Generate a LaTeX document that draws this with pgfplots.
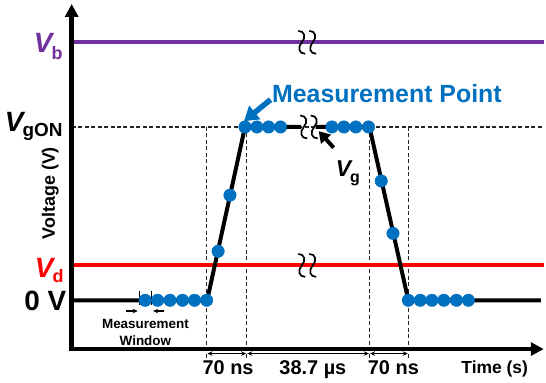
\documentclass[border=0pt]{standalone}
\usepackage{fontspec}
\setmainfont{Liberation Sans}
\usepackage{pgfplots}
\pgfplotsset{compat=1.18}
\usetikzlibrary{arrows.meta}

\definecolor{vpurple}{RGB}{112,48,160}
\definecolor{vred}{RGB}{255,0,0}
\definecolor{vblue}{RGB}{0,112,192}
\newcommand{\fs}[1]{\fontsize{#1bp}{#1bp}\selectfont}

% axis-break symbol: a small vertical wave centred on the given point
\newcommand{\brk}[2]{%
  \draw[black, line width=1.7bp] (axis cs:#1,#2) ++(-3.5bp,11.5bp)
    .. controls +(6.5bp,0bp) and +(4.5bp,5bp) .. ++(3.5bp,-11.5bp)
    .. controls +(-4.5bp,-5bp) and +(-6.5bp,0bp) .. ++(3.5bp,-11.5bp);}

\begin{document}
\begin{tikzpicture}
\begin{axis}[
  x=1bp, y=1bp,
  xmin=0, xmax=474, ymin=0, ymax=346.5,
  axis lines=left,
  axis line style={line width=4.5bp, line cap=rect, -{Triangle[length=13bp,width=13bp]}},
  xtick=\empty, ytick=\empty,
  clip=false, axis on top,
]
% overall extent of the figure
\path (axis cs:-72,-33.5) rectangle (axis cs:474,350.5);

% reference lines
\addplot[black!85, line width=1.3bp, dash pattern=on 4bp off 2.5bp] coordinates {(0,223) (474,223)};
\foreach \xv in {135.7,175.7,299,338}{
  \edef\tmp{\noexpand\draw[black!85, line width=1.3bp, dash pattern=on 4bp off 2.5bp]
    (axis cs:\xv,223) -- (axis cs:\xv,-9);}\tmp
}

% bias levels
\addplot[vpurple, line width=4bp] coordinates {(0,308) (474,308)};
\addplot[vred, line width=4bp] coordinates {(0,84.5) (474,84.5)};

% gate pulse
\addplot[black, line width=4bp, line join=round] coordinates {(0,49) (136,49) (174,223) (230,223)};
\addplot[black, line width=4bp, line join=round] coordinates {(245,223) (299,223) (338,49) (471,49)};

% measurement points
\addplot[only marks, mark=*, mark size=6.3pt, mark options={draw=vblue, fill=vblue}] coordinates {
  (73.7,49) (86.3,49) (98.7,49) (111.3,49) (123.3,49) (135.5,49)
  (147,98.2) (158.9,154.5)
  (174,223) (186,223) (197.7,223) (209.7,223)
  (261.3,223) (273.3,223) (285.3,223) (298,223)
  (310.8,168.8) (322.6,116.2)
  (338,49) (350,49) (361.7,49) (373.7,49) (386.3,49) (398.3,49)
};

% axis breaks
\brk{231}{308}\brk{242}{308}
\brk{231}{84}\brk{242}{84}
\brk{233}{223}\brk{243.5}{223}

% measurement window
\draw[black, line width=1.5bp] (axis cs:68,58.8) -- (axis cs:68,43.8);
\draw[black, line width=1.5bp] (axis cs:80.3,58.8) -- (axis cs:80.3,43.8);
\draw[black, line width=1.2bp, -{Stealth[length=5bp,width=4.5bp]}] (axis cs:54.7,38.2) -- (axis cs:66.3,38.2);
\draw[black, line width=1.2bp, -{Stealth[length=5bp,width=4.5bp]}] (axis cs:93,38.2) -- (axis cs:81.8,38.2);
\node[anchor=base] at (axis cs:74,20.5) {\fs{13.5}\bfseries Measurement};
\node[anchor=base] at (axis cs:74,3.8) {\fs{13.5}\bfseries Window};

% timing intervals
\draw[black, line width=1.1bp, {Stealth[length=5bp,width=4.5bp]}-{Stealth[length=5bp,width=4.5bp]}] (axis cs:136.3,-4.5) -- (axis cs:175.1,-4.5);
\draw[black, line width=1.1bp, {Stealth[length=5bp,width=4.5bp]}-{Stealth[length=5bp,width=4.5bp]}] (axis cs:176.3,-4.5) -- (axis cs:298.4,-4.5);
\draw[black, line width=1.1bp, {Stealth[length=5bp,width=4.5bp]}-{Stealth[length=5bp,width=4.5bp]}] (axis cs:299.6,-4.5) -- (axis cs:337.4,-4.5);
\node[anchor=base] at (axis cs:157,-25.5) {\fs{20}\bfseries 70 ns};
\node[anchor=base] at (axis cs:242.2,-25.5) {\fs{20}\bfseries 38.7 µs};
\node[anchor=base] at (axis cs:323,-25.5) {\fs{20}\bfseries 70 ns};
\node[anchor=base] at (axis cs:424.7,-24.5) {\fs{17.5}\bfseries Time (s)};

% annotations
\draw[vblue, line width=5.5bp, -{Triangle[length=14bp,width=17bp]}] (axis cs:199.7,250.5) -- (axis cs:173,228.8);
\node[anchor=base] at (axis cs:316.5,247.2) {\fs{25}\bfseries\color{vblue}Measurement Point};
\draw[black, line width=4bp, -{Triangle[length=11bp,width=13bp]}] (axis cs:263,202.2) -- (axis cs:248,218.8);
\node[anchor=base west, inner sep=0pt] at (axis cs:265,173.5) {\fs{23}\bfseries\itshape V\kern-1bp\raisebox{-6bp}{\fs{16}\upshape g}};

% level labels
\node[anchor=base east, inner sep=0pt] at (axis cs:-9,297.5) {\fs{28}\bfseries\itshape\color{vpurple}V\kern-1bp\raisebox{-6.5bp}{\fs{18}\upshape b}};
\node[anchor=base east, inner sep=0pt] at (axis cs:-9,218.8) {\fs{28}\bfseries\itshape V\kern-1bp\raisebox{-5bp}{\fs{19}\upshape gON}};
\node[anchor=base east, inner sep=0pt] at (axis cs:-8,72.2) {\fs{28}\bfseries\itshape\color{vred}V\kern-1bp\raisebox{-5.7bp}{\fs{18}\upshape d}};
\node[anchor=base east, inner sep=0pt] at (axis cs:-5.3,38.8) {\fs{28}\bfseries 0 V};
\node[rotate=90, anchor=base] at (axis cs:-17,156.5) {\fs{18}\bfseries Voltage (V)};
\end{axis}
\end{tikzpicture}
\end{document}
